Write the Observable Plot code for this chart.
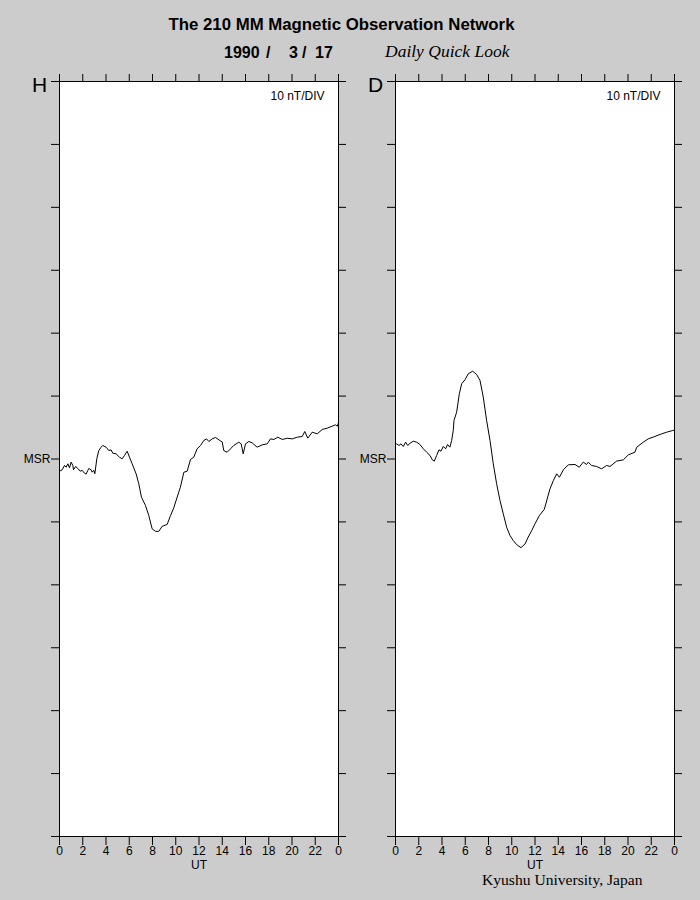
<!DOCTYPE html>
<html>
<head>
<meta charset="utf-8">
<script src="https://cdn.jsdelivr.net/npm/d3@7"></script>
<script src="https://cdn.jsdelivr.net/npm/@observablehq/plot@0.6"></script>
<style>
  html, body { margin: 0; padding: 0; }
  body { width: 700px; height: 900px; background: #cccccc; position: relative; overflow: hidden; font-family: "Liberation Sans", Arial, sans-serif; }
  .t { position: absolute; white-space: nowrap; color: #000; line-height: 1; }
  .b { font-size: 16px; font-weight: bold; }
  .panel { position: absolute; top: 60px; }
</style>
</head>
<body>
<div class="t" id="title" style="left:341.5px; top:17px; transform:translateX(-50%); font-size:16.8px; font-weight:bold;">The 210 MM Magnetic Observation Network</div>
<div class="t b" style="left:224px; top:45px;">1990</div>
<div class="t b" style="left:266px; top:45px;">/</div>
<div class="t b" style="left:289px; top:45px;">3</div>
<div class="t b" style="left:302px; top:45px;">/</div>
<div class="t b" style="left:315px; top:45px;">17</div>
<div class="t" style="left:385px; top:43px; font-size:17.5px; font-family:'Liberation Serif', serif; font-style:italic;">Daily Quick Look</div>
<div class="panel" id="pH" style="left:0px;"></div>
<div class="panel" id="pD" style="left:336px;"></div>
<div class="t" style="left:482px; top:875px; line-height:10px; font-size:15.6px; font-family:'Liberation Serif', serif;">Kyushu University, Japan</div>
<script>
// ---- data (hours UT, deviation in nT from MSR) ----
const hoursH = [0,0.23,0.43,0.57,0.72,0.86,1.0,1.15,1.2,1.38,1.58,1.78,1.95,2.15,2.29,2.44,2.52,2.72,2.81,2.95,3.04,3.21,3.38,3.58,3.72,4.01,4.24,4.44,4.58,4.87,5.16,5.39,5.59,5.82,6.02,6.25,6.59,6.82,7.05,7.4,7.68,7.97,8.26,8.54,8.83,9.26,9.55,9.83,10.12,10.4,10.7,10.98,11.27,11.55,11.84,12.13,12.41,12.65,12.85,13.13,13.42,13.79,14.0,14.13,14.42,14.71,14.99,15.42,15.63,15.8,16.0,16.29,16.57,17.0,17.44,17.87,18.15,18.44,18.78,19.16,19.59,20.02,20.45,20.88,21.1,21.36,21.74,22.17,22.6,23.03,23.46,23.74,23.89,24];
const valuesH = [-1.94,-1.72,-1.03,-1.3,-0.76,-1.4,-0.5,-1.03,-1.72,-1.19,-1.5,-1.94,-1.8,-2.26,-2.4,-1.8,-1.5,-1.72,-2.1,-1.8,-2.35,0.03,1.35,1.88,2.15,1.88,1.35,1.45,0.93,0.82,0.29,0.03,0.56,1.24,0.29,-0.76,-2.35,-3.94,-6.07,-7.4,-8.98,-11.1,-11.5,-11.5,-10.7,-10.4,-9.0,-7.76,-6.07,-4.48,-2.1,-1.94,-0.08,0.29,1.62,2.15,2.94,3.2,2.78,3.2,3.42,2.94,2.7,1.35,1.08,1.62,2.15,2.67,2.4,0.82,2.41,2.78,2.57,1.88,2.25,2.41,3.2,3.1,3.47,3.1,3.3,3.2,3.47,3.58,4.37,3.31,4.26,4.0,4.69,4.9,5.22,5.43,5.22,5.75];
const hoursD = [0,0.1,0.3,0.47,0.67,0.87,1.05,1.25,1.53,1.82,2.1,2.39,2.68,2.97,3.17,3.34,3.54,3.74,3.91,4.11,4.31,4.48,4.68,4.83,4.97,5.03,5.26,5.49,5.69,5.98,6.26,6.64,6.98,7.27,7.55,7.84,8.13,8.41,8.7,8.99,9.27,9.56,9.85,10.13,10.42,10.79,11.14,11.42,11.71,12,12.37,12.8,13.29,13.58,13.87,14.1,14.44,14.87,15.44,15.81,16.15,16.44,16.58,16.87,17.3,17.73,18.16,18.45,19.02,19.6,20.03,20.6,20.75,21.31,21.74,22.31,22.9,23.33,23.85,24];
const valuesD = [2.3,2.41,2.15,2.41,1.99,2.67,2.15,2.5,2.83,2.67,2.3,1.62,1.08,0.56,-0.13,-0.34,0.56,1.46,1.24,1.99,1.62,2.3,1.88,2.94,4.53,6.12,7.44,10.37,11.96,12.6,13.55,13.96,13.43,12.48,9.83,6.12,2.94,-0.76,-3.94,-6.6,-8.7,-10.84,-12.16,-12.96,-13.6,-14.1,-13.5,-12.4,-11.4,-10.3,-9.0,-8.0,-4.74,-3.42,-2.35,-2.9,-1.72,-0.92,-0.87,-1.3,-0.5,-0.87,-0.5,-1.03,-1.19,-1.56,-1.03,-1.19,-0.34,-0.13,0.66,1.08,1.88,2.67,3.2,3.58,4.0,4.26,4.53,4.6];
const hourTicks = [0,2,4,6,8,10,12,14,16,18,20,22,24];
const nTTicks = [-60,-50,-40,-30,-20,-10,0,10,20,30,40,50,60];
const scaleLabel = "10 nT/DIV";

function panel(hours, values, letter) {
  const data = hours.map((t, i) => ({t, v: values[i]}));
  return Plot.plot({
    width: 350, height: 820,
    marginLeft: 59, marginRight: 12, marginTop: 21, marginBottom: 44,
    style: {background: "transparent", fontFamily: "'Liberation Sans', Arial, sans-serif", fontSize: "12px", color: "black", overflow: "visible"},
    x: {domain: [0, 24]},
    y: {domain: [-60, 60]},
    marks: [
      Plot.frame({fill: "white", stroke: "none"}),
      Plot.line(data, {x: "t", y: "v", stroke: "black", strokeWidth: 1}),
      Plot.frame({stroke: "black", strokeWidth: 1}),
      Plot.axisX({anchor: "bottom", ticks: hourTicks, tickSize: 9, tickPadding: 1, tickFormat: d => String(d % 24), label: "UT", labelAnchor: "center", labelArrow: "none", labelOffset: 32}),
      Plot.axisX({anchor: "top", ticks: hourTicks, tickSize: 8, tickFormat: () => "", label: null}),
      Plot.axisY({anchor: "left", ticks: nTTicks, tickSize: 8, tickPadding: 1, tickFormat: d => d === 0 ? "MSR" : "", label: null}),
      Plot.axisY({anchor: "right", ticks: nTTicks, tickSize: 7, tickFormat: () => "", label: null}),
      Plot.text([scaleLabel], {text: d => d, frameAnchor: "top-right", dx: -14, dy: 10, fontSize: 12}),
      Plot.text([letter], {text: d => d, frameAnchor: "top-left", dx: -20, dy: 10, lineAnchor: "bottom", textAnchor: "middle", fontSize: 21})
    ]
  });
}
document.getElementById("pH").appendChild(panel(hoursH, valuesH, "H"));
document.getElementById("pD").appendChild(panel(hoursD, valuesD, "D"));
</script>
</body>
</html>
